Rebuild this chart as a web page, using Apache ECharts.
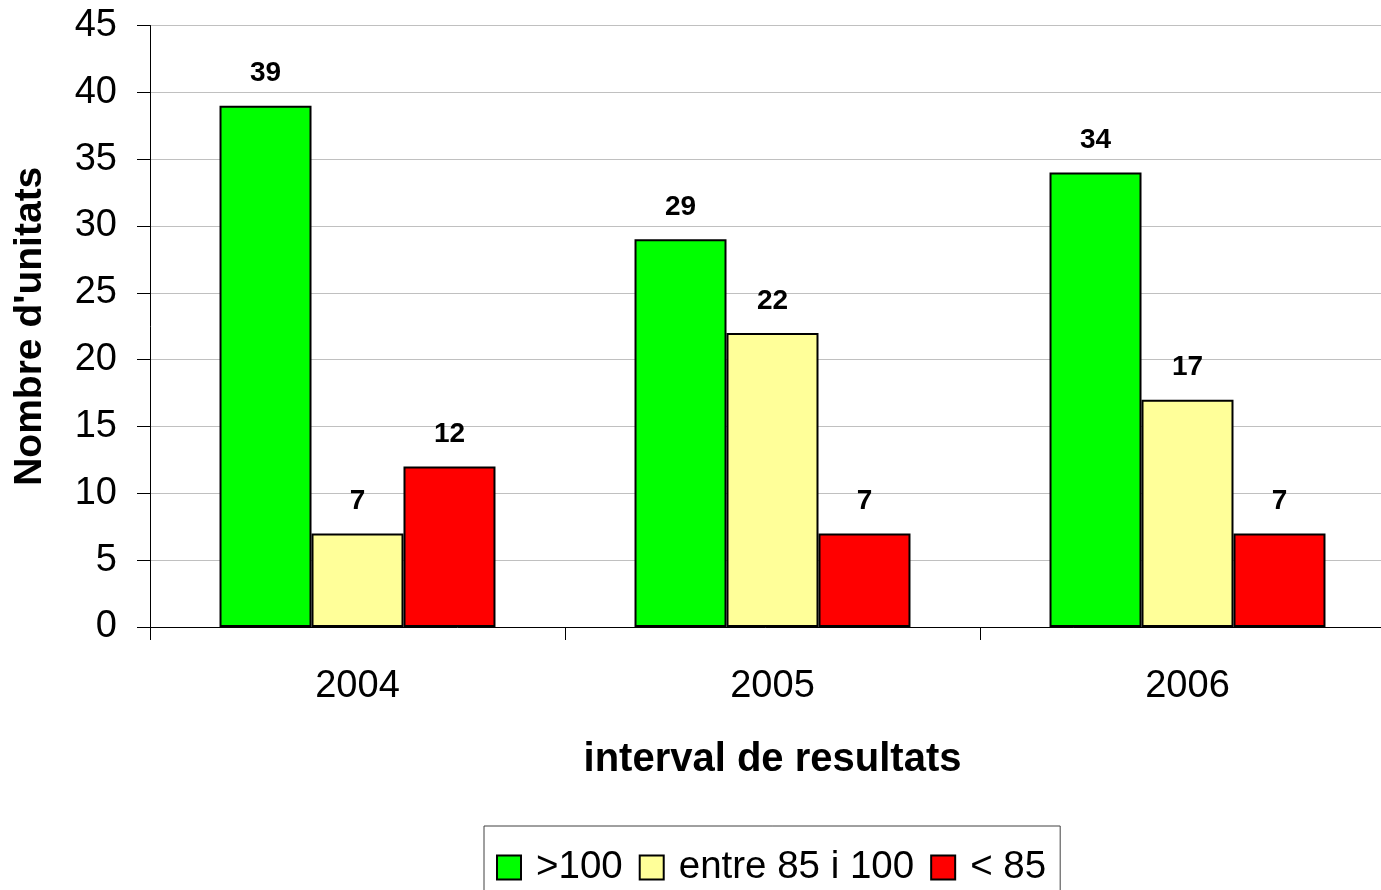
<!DOCTYPE html>
<html>
<head>
<meta charset="utf-8">
<script src="https://cdn.jsdelivr.net/npm/echarts@6/dist/echarts.min.js"></script>
<style>
html,body{margin:0;padding:0;background:#fff;}
#c{width:1381px;height:890px;}
</style>
</head>
<body>
<div id="c"></div>
<script>
const categories = ['2004', '2005', '2006'];
const seriesNames = ['>100', 'entre 85 i 100', '< 85'];
const above100 = [39, 29, 34];
const between85and100 = [7, 22, 17];
const below85 = [12, 7, 7];
const yTicks = { min: 0, max: 45, interval: 5 };
const xTitle = 'interval de resultats';
const yTitle = "Nombre d'unitats";

const FONT = 'Arial, "Liberation Sans", sans-serif';
const colors = ['#00FF00', '#FFFF99', '#FF0000'];
const values = [above100, between85and100, below85];

const chart = echarts.init(document.getElementById('c'));
chart.setOption({
  animation: false,
  backgroundColor: '#fff',
  textStyle: { fontFamily: FONT },
  grid: { left: 150, top: 25.5, width: 1245, bottom: 263, containLabel: false, outerBoundsMode: 'none' },
  legend: {
    left: 484, top: 826,
    orient: 'horizontal',
    icon: 'rect',
    itemWidth: 24, itemHeight: 24,
    itemGap: 16,
    padding: [22, 14, 40, 12],
    borderColor: '#404040', borderWidth: 1,
    textStyle: { fontFamily: FONT, fontSize: 38.5, color: '#000', padding: [0, 0, 0, 10] },
    data: seriesNames
  },
  xAxis: {
    type: 'category',
    data: categories,
    boundaryGap: true,
    axisLine: { lineStyle: { color: '#000', width: 1 } },
    axisTick: { show: true, length: 13, inside: false, lineStyle: { color: '#000' } },
    axisLabel: { fontFamily: FONT, fontSize: 38, color: '#000', margin: 41 },
    name: xTitle,
    nameLocation: 'middle',
    nameGap: 113,
    nameTextStyle: { fontFamily: FONT, fontSize: 40, fontWeight: 'bold', color: '#000' }
  },
  yAxis: {
    type: 'value',
    min: yTicks.min, max: yTicks.max, interval: yTicks.interval,
    axisLine: { show: true, lineStyle: { color: '#000', width: 1 } },
    axisTick: { show: true, length: 13, lineStyle: { color: '#000' } },
    axisLabel: { fontFamily: FONT, fontSize: 38, color: '#000', margin: 33 },
    splitLine: { show: true, lineStyle: { color: '#c0c0c0', width: 1 } },
    name: yTitle,
    nameLocation: 'middle',
    nameGap: 100,
    nameTextStyle: { fontFamily: FONT, fontSize: 39, fontWeight: 'bold', color: '#000' }
  },
  series: seriesNames.map((n, i) => ({
    name: n,
    type: 'bar',
    data: values[i],
    barGap: '0%',
    barCategoryGap: '33.5%',
    itemStyle: { color: colors[i], borderColor: '#000', borderWidth: 2 },
    label: {
      show: true, position: 'top', distance: 18,
      fontFamily: FONT, fontSize: 28, fontWeight: 'bold', color: '#000'
    }
  }))
});
</script>
</body>
</html>
